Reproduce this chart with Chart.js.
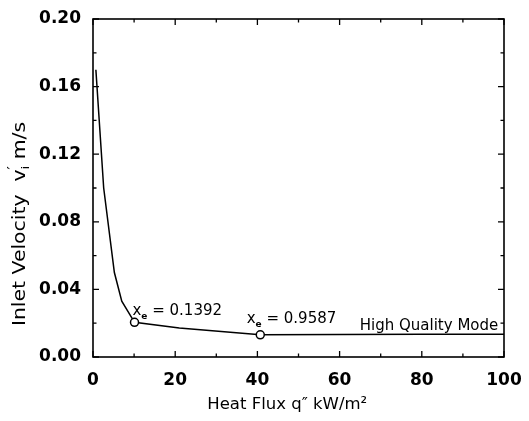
<!DOCTYPE html>
<html><head><meta charset="utf-8">
<script src="https://cdn.jsdelivr.net/npm/chart.js@4/dist/chart.umd.min.js"></script>
<style>html,body{margin:0;padding:0;background:#fff}#wrap{width:529px;height:421px}</style>
</head><body><div id="wrap"><canvas id="c" width="529" height="421"></canvas></div>
<script>
// ---- data ----
const heatFlux      = [0.7, 2.6, 5.2, 7.0, 10.1, 21, 40.7, 60, 80, 100];
const inletVelocity = [0.170, 0.100, 0.050, 0.033, 0.0205, 0.0171, 0.0131, 0.0133, 0.0134, 0.0134];
const markerFlux     = [10.1, 40.7];
const markerVelocity = [0.0205, 0.0131];
const exitQualityLabels = ['0.1392', '0.9587'];
const modeLabel = 'High Quality Mode';
const xTitle = 'Heat Flux q\u2033 kW/m\u00b2';
const yTitleParts = ['Inlet Velocity  v', '\u2032', 'i', ' m/s'];
const xTicks = [0, 20, 40, 60, 80, 100];
const yTicks = [0.00, 0.04, 0.08, 0.12, 0.16, 0.20];

const FONT = "'DejaVu Sans', 'Liberation Sans', Arial, sans-serif";

const framePlugin = {
  id: 'frame',
  afterDatasetsDraw(chart) {
    const {ctx, chartArea: a, scales: {x, y}} = chart;
    ctx.save();
    ctx.strokeStyle = '#000';
    ctx.lineWidth = 1.6;
    ctx.strokeRect(a.left, a.top, a.right - a.left, a.bottom - a.top);
    ctx.lineWidth = 1.3;
    const xs = [];
    xTicks.forEach((v, i) => { xs.push([v, 6]); if (i < xTicks.length - 1) xs.push([(v + xTicks[i + 1]) / 2, 3.5]); });
    xs.forEach(([v, L]) => {
      const px = x.getPixelForValue(v);
      ctx.beginPath();
      ctx.moveTo(px, a.bottom); ctx.lineTo(px, a.bottom - L);
      ctx.moveTo(px, a.top); ctx.lineTo(px, a.top + L);
      ctx.stroke();
    });
    const ys = [];
    yTicks.forEach((v, i) => { ys.push([v, 6]); if (i < yTicks.length - 1) ys.push([(v + yTicks[i + 1]) / 2, 3.5]); });
    ys.forEach(([v, L]) => {
      const py = y.getPixelForValue(v);
      ctx.beginPath();
      ctx.moveTo(a.left, py); ctx.lineTo(a.left + L, py);
      ctx.moveTo(a.right, py); ctx.lineTo(a.right - L, py);
      ctx.stroke();
    });

    // annotations
    ctx.fillStyle = '#000';
    ctx.textBaseline = 'alphabetic';
    const anchors = [[9.6, 0.0249], [37.4, 0.0202]];
    exitQualityLabels.forEach((t, i) => {
      let px = x.getPixelForValue(anchors[i][0]);
      const py = y.getPixelForValue(anchors[i][1]);
      ctx.textAlign = 'left';
      ctx.font = `15px ${FONT}`;
      ctx.fillText('x', px, py);
      px += ctx.measureText('x').width;
      ctx.font = `bold 9px ${FONT}`;
      ctx.fillText('e', px, py + 4);
      px += ctx.measureText('e').width;
      ctx.font = `15px ${FONT}`;
      ctx.fillText(' = ' + t, px, py);
    });
    ctx.font = `15px ${FONT}`;
    ctx.textAlign = 'right';
    ctx.fillText(modeLabel, x.getPixelForValue(98.6), y.getPixelForValue(0.0160));

    // x-axis title
    ctx.font = `16.5px ${FONT}`;
    ctx.textAlign = 'left';
    ctx.textBaseline = 'middle';
    ctx.fillText(xTitle, x.getPixelForValue(27.8), 405);

    // y-axis title (stretched along its length like the reference lettering)
    ctx.save();
    ctx.translate(20, 224);
    ctx.rotate(-Math.PI / 2);
    ctx.scale(1.2, 1);
    const parts = [[yTitleParts[0], 17, 0], [yTitleParts[1], 12, -8, true], [yTitleParts[2], 11, 5], [yTitleParts[3], 17, 0]];
    let w = 0;
    parts.forEach(p => { ctx.font = `${p[1]}px ${FONT}`; if (!p[3]) w += ctx.measureText(p[0]).width; });
    let cx = -w / 2;
    ctx.textAlign = 'left';
    ctx.textBaseline = 'middle';
    parts.forEach(p => {
      ctx.font = `${p[1]}px ${FONT}`;
      ctx.fillText(p[0], cx, p[2] + 1);
      if (!p[3]) cx += ctx.measureText(p[0]).width;
    });
    ctx.restore();
    ctx.restore();
  }
};

new Chart(document.getElementById('c'), {
  type: 'scatter',
  data: {
    datasets: [
      {
        label: 'Inlet velocity',
        data: heatFlux.map((v, i) => ({x: v, y: inletVelocity[i]})),
        showLine: true, borderColor: '#000', borderWidth: 1.5, pointRadius: 0, tension: 0, order: 2
      },
      {
        label: 'Exit quality points',
        data: markerFlux.map((v, i) => ({x: v, y: markerVelocity[i]})),
        showLine: false, pointRadius: 4, pointBorderWidth: 1.5, pointBorderColor: '#000',
        pointBackgroundColor: '#fff', pointStyle: 'circle', order: 1
      }
    ]
  },
  options: {
    responsive: false, animation: false, devicePixelRatio: 1,
    layout: {padding: {left: 0, right: 25, top: 19, bottom: 0}},
    plugins: {legend: {display: false}, tooltip: {enabled: false}},
    scales: {
      x: {
        type: 'linear', min: 0, max: 100,
        afterBuildTicks: s => { s.ticks = xTicks.map(v => ({value: v})); },
        afterFit: s => { s.height = 64; s.paddingLeft = 0; s.paddingRight = 0; },
        grid: {display: false, drawTicks: false}, border: {display: false},
        ticks: {color: '#000', padding: 13, font: {family: FONT, size: 17, weight: 'bold'}, callback: v => String(v), maxRotation: 0},
        title: {display: false}
      },
      y: {
        type: 'linear', min: 0, max: 0.2,
        afterBuildTicks: s => { s.ticks = yTicks.map(v => ({value: v})); },
        afterFit: s => { s.width = 93; s.paddingTop = 0; s.paddingBottom = 0; },
        grid: {display: false, drawTicks: false}, border: {display: false},
        ticks: {color: '#000', padding: 12, font: {family: FONT, size: 17, weight: 'bold'}, callback: v => Number(v).toFixed(2)},
        title: {display: false}
      }
    }
  },
  plugins: [framePlugin]
});
</script>
</body></html>
